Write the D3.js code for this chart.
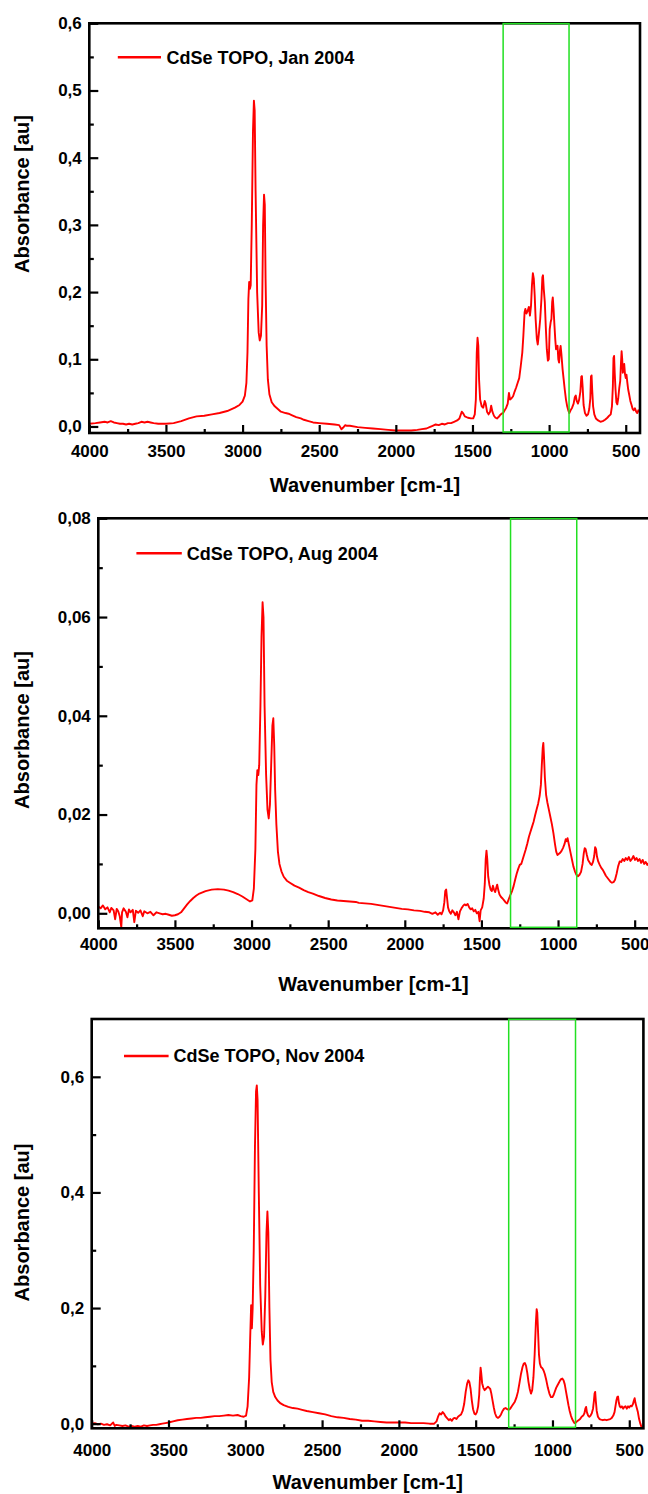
<!DOCTYPE html>
<html><head><meta charset="utf-8">
<script src="https://cdn.jsdelivr.net/npm/d3@7"></script>
<style>body{margin:0;background:#fff}svg{display:block}text{font-family:"Liberation Sans",Arial,sans-serif;font-weight:bold;fill:#000}</style>
</head><body>
<script>
// ---------- DATA ----------
const seriesLabels = ["CdSe TOPO, Jan 2004", "CdSe TOPO, Aug 2004", "CdSe TOPO, Nov 2004"];
const xTitle = "Wavenumber [cm-1]";
const yTitle = "Absorbance [au]";
const xMajorTicks = [4000, 3500, 3000, 2500, 2000, 1500, 1000, 500];
const xMinorTicks = [3750, 3250, 2750, 2250, 1750, 1250, 750];
const janYMajor = [0, 0.1, 0.2, 0.3, 0.4, 0.5, 0.6];
const janYMinor = [0.05, 0.15, 0.25, 0.35, 0.45, 0.55];
const augYMajor = [0, 0.02, 0.04, 0.06, 0.08];
const augYMinor = [0.01, 0.03, 0.05, 0.07];
const novYMajor = [0, 0.2, 0.4, 0.6];
const novYMinor = [0.1, 0.3, 0.5];
const janBox = [1300, 870];
const augBox = [1310, 878];
const novBox = [1285, 850];

const janSpectrum = [
[4000,0.004],[3960,0.005],[3930,0.006],[3900,0.007],[3880,0.006],[3860,0.008],[3840,0.006],[3820,0.005],[3800,0.004],[3780,0.004],
[3760,0.003],[3740,0.004],[3720,0.003],[3700,0.004],[3680,0.005],[3660,0.007],[3640,0.006],[3620,0.007],[3600,0.006],[3580,0.005],
[3550,0.004],[3500,0.004],[3450,0.005],[3400,0.008],[3350,0.012],[3300,0.015],[3250,0.016],[3200,0.018],[3150,0.020],[3100,0.023],
[3050,0.028],[3020,0.032],[3000,0.037],[2985,0.046],[2975,0.065],[2968,0.110],[2962,0.190],[2957,0.215],[2952,0.205],[2947,0.210],
[2940,0.300],[2932,0.440],[2926,0.485],[2921,0.470],[2915,0.350],[2905,0.200],[2895,0.140],[2888,0.128],[2880,0.135],[2872,0.180],
[2866,0.300],[2860,0.345],[2855,0.330],[2850,0.220],[2843,0.120],[2835,0.070],[2825,0.048],[2810,0.036],[2790,0.030],[2770,0.026],
[2750,0.022],[2720,0.020],[2700,0.019],[2680,0.017],[2650,0.014],[2620,0.012],[2600,0.010],[2570,0.008],[2540,0.006],[2500,0.005],
[2450,0.004],[2400,0.003],[2370,0.002],[2355,-0.004],[2345,-0.002],[2330,0.002],[2320,0.001],[2300,0.001],[2250,-0.001],[2200,-0.002],
[2150,-0.003],[2100,-0.004],[2050,-0.005],[2000,-0.006],[1950,-0.006],[1900,-0.006],[1860,-0.005],[1830,-0.004],[1800,-0.003],[1780,-0.001],
[1760,0.001],[1740,0.003],[1720,0.002],[1700,0.004],[1680,0.003],[1660,0.005],[1640,0.005],[1620,0.007],[1600,0.009],[1585,0.012],
[1570,0.022],[1562,0.020],[1550,0.015],[1530,0.013],[1510,0.012],[1495,0.012],[1485,0.018],[1478,0.040],[1472,0.110],[1467,0.132],
[1462,0.120],[1457,0.070],[1450,0.040],[1440,0.030],[1430,0.028],[1420,0.038],[1414,0.034],[1405,0.022],[1395,0.018],[1385,0.022],
[1378,0.031],[1370,0.022],[1360,0.016],[1350,0.013],[1340,0.012],[1330,0.014],[1320,0.017],[1310,0.019],[1300,0.020],[1290,0.024],
[1280,0.028],[1270,0.034],[1262,0.050],[1255,0.040],[1245,0.042],[1235,0.045],[1225,0.052],[1215,0.058],[1205,0.065],[1195,0.072],
[1185,0.090],[1175,0.110],[1168,0.135],[1160,0.170],[1155,0.175],[1148,0.168],[1140,0.172],[1132,0.178],[1125,0.165],[1118,0.180],
[1112,0.210],[1106,0.228],[1100,0.220],[1094,0.195],[1088,0.160],[1080,0.130],[1074,0.122],[1066,0.140],[1058,0.160],[1050,0.190],
[1044,0.222],[1040,0.225],[1035,0.205],[1028,0.185],[1022,0.150],[1015,0.115],[1008,0.098],[1002,0.100],[996,0.145],[990,0.155],
[985,0.160],[980,0.185],[976,0.192],[971,0.175],[965,0.150],[960,0.130],[955,0.115],[950,0.118],[945,0.120],[940,0.100],
[935,0.095],[930,0.112],[925,0.120],[920,0.108],[912,0.085],[905,0.070],[898,0.055],[890,0.040],[882,0.030],[875,0.024],
[868,0.020],[860,0.024],[850,0.028],[840,0.034],[832,0.044],[826,0.046],[820,0.038],[812,0.034],[804,0.040],[796,0.052],
[790,0.074],[786,0.075],[781,0.058],[775,0.032],[766,0.020],[756,0.016],[746,0.018],[738,0.026],[731,0.042],[727,0.074],
[723,0.076],[719,0.055],[713,0.030],[705,0.018],[695,0.012],[680,0.009],[665,0.007],[650,0.008],[635,0.010],[620,0.013],
[608,0.016],[598,0.018],[590,0.030],[584,0.060],[580,0.102],[576,0.105],[572,0.080],[567,0.056],[561,0.036],[555,0.033],
[549,0.042],[542,0.058],[536,0.068],[531,0.095],[527,0.112],[523,0.100],[519,0.080],[514,0.090],[510,0.093],[505,0.078],
[500,0.072],[495,0.077],[490,0.066],[484,0.055],[478,0.048],[470,0.038],[462,0.032],[455,0.026],[448,0.024],[440,0.027],
[432,0.022],[425,0.020],[418,0.024],[410,0.022]
];

const augSpectrum = [
[4000,0.0014],[3985,0.0010],[3970,0.0016],[3955,0.0008],[3940,0.0012],[3925,0.0002],[3915,0.0011],[3900,0.0006],[3890,-0.0012],[3880,0.0009],
[3870,0.0004],[3860,-0.0006],[3850,-0.0028],[3845,0.0002],[3835,0.0010],[3820,0.0003],[3810,-0.0008],[3800,0.0008],[3790,0.0002],[3775,0.0007],
[3765,-0.0018],[3755,0.0005],[3740,0.0001],[3725,0.0006],[3710,-0.0006],[3700,0.0004],[3680,0.0000],[3660,0.0003],[3640,-0.0004],[3620,0.0002],
[3600,0.0000],[3580,-0.0002],[3560,-0.0001],[3540,-0.0003],[3520,-0.0005],[3500,-0.0004],[3480,-0.0002],[3460,0.0002],[3440,0.0010],[3420,0.0018],
[3400,0.0025],[3380,0.0031],[3360,0.0036],[3340,0.0040],[3300,0.0045],[3260,0.0048],[3220,0.0049],[3180,0.0048],[3150,0.0046],[3120,0.0043],
[3090,0.0039],[3060,0.0034],[3030,0.0028],[3010,0.0024],[2995,0.0026],[2985,0.0050],[2975,0.0130],[2968,0.0260],[2962,0.0290],[2956,0.0280],
[2950,0.0300],[2942,0.0420],[2935,0.0560],[2928,0.0630],[2922,0.0600],[2915,0.0420],[2905,0.0280],[2896,0.0210],[2888,0.0192],[2880,0.0220],
[2872,0.0300],[2864,0.0380],[2858,0.0395],[2852,0.0340],[2846,0.0250],[2838,0.0180],[2828,0.0125],[2818,0.0100],[2805,0.0085],[2790,0.0074],
[2770,0.0066],[2750,0.0062],[2720,0.0056],[2690,0.0052],[2660,0.0047],[2630,0.0043],[2600,0.0040],[2560,0.0035],[2520,0.0031],[2480,0.0028],
[2440,0.0026],[2400,0.0025],[2360,0.0024],[2320,0.0023],[2300,0.0021],[2260,0.0020],[2220,0.0019],[2180,0.0017],[2140,0.0015],[2100,0.0013],
[2060,0.0011],[2020,0.0009],[1980,0.0008],[1940,0.0006],[1900,0.0005],[1870,0.0003],[1840,0.0002],[1820,-0.0001],[1800,0.0002],[1785,-0.0003],
[1770,0.0001],[1760,-0.0002],[1750,0.0006],[1742,0.0022],[1736,0.0045],[1730,0.0048],[1724,0.0030],[1718,0.0012],[1710,0.0004],[1700,-0.0001],
[1690,0.0006],[1680,0.0002],[1670,-0.0004],[1660,0.0003],[1650,-0.0012],[1640,0.0004],[1630,0.0010],[1620,0.0015],[1610,0.0018],[1600,0.0016],
[1590,0.0019],[1580,0.0012],[1570,0.0008],[1560,0.0010],[1550,0.0004],[1540,0.0007],[1530,0.0000],[1520,0.0003],[1512,-0.0016],[1505,0.0006],
[1495,0.0012],[1485,0.0030],[1478,0.0060],[1472,0.0110],[1467,0.0127],[1462,0.0110],[1456,0.0075],[1448,0.0058],[1440,0.0048],[1432,0.0045],
[1425,0.0056],[1418,0.0048],[1410,0.0043],[1403,0.0052],[1397,0.0058],[1390,0.0047],[1382,0.0038],[1372,0.0033],[1362,0.0030],[1352,0.0026],
[1342,0.0022],[1332,0.0020],[1320,0.0030],[1310,0.0038],[1300,0.0045],[1290,0.0055],[1280,0.0068],[1270,0.0080],[1260,0.0090],[1250,0.0098],
[1240,0.0100],[1232,0.0108],[1222,0.0118],[1212,0.0128],[1200,0.0142],[1190,0.0155],[1180,0.0165],[1170,0.0175],[1160,0.0185],[1150,0.0198],
[1140,0.0210],[1130,0.0222],[1120,0.0238],[1112,0.0260],[1106,0.0300],[1100,0.0335],[1096,0.0345],[1092,0.0320],[1086,0.0275],[1078,0.0240],
[1070,0.0225],[1060,0.0210],[1050,0.0195],[1040,0.0180],[1030,0.0162],[1020,0.0140],[1012,0.0125],[1004,0.0118],[996,0.0120],[988,0.0122],
[978,0.0126],[968,0.0132],[958,0.0140],[950,0.0150],[944,0.0146],[938,0.0152],[930,0.0140],[920,0.0125],[910,0.0110],[900,0.0095],
[890,0.0085],[880,0.0078],[870,0.0075],[860,0.0078],[850,0.0084],[840,0.0100],[832,0.0122],[826,0.0132],[820,0.0130],[812,0.0118],
[804,0.0108],[796,0.0104],[788,0.0100],[780,0.0098],[772,0.0104],[764,0.0116],[758,0.0134],[752,0.0130],[746,0.0115],[738,0.0105],
[728,0.0098],[718,0.0092],[708,0.0088],[698,0.0082],[688,0.0076],[678,0.0072],[668,0.0068],[658,0.0064],[648,0.0062],[638,0.0063],
[628,0.0068],[618,0.0080],[608,0.0095],[598,0.0105],[588,0.0104],[578,0.0110],[568,0.0106],[558,0.0112],[548,0.0108],[538,0.0114],
[528,0.0106],[518,0.0110],[508,0.0116],[498,0.0108],[488,0.0112],[478,0.0106],[468,0.0110],[458,0.0102],[448,0.0108],[438,0.0100],
[428,0.0104],[418,0.0098],[408,0.0102],[400,0.0100]
];

const novSpectrum = [
[4000,0.000],[3980,0.001],[3960,-0.001],[3940,0.000],[3920,-0.002],[3900,-0.001],[3880,-0.003],[3860,0.002],[3850,-0.004],[3840,-0.002],
[3820,-0.003],[3800,-0.004],[3780,-0.003],[3760,-0.005],[3740,-0.004],[3720,-0.005],[3700,-0.004],[3680,-0.005],[3660,-0.003],[3640,-0.004],
[3620,-0.003],[3600,-0.002],[3580,-0.002],[3560,-0.001],[3540,0.000],[3520,0.001],[3500,0.002],[3470,0.004],[3440,0.006],[3410,0.007],
[3380,0.008],[3350,0.009],[3320,0.010],[3290,0.010],[3260,0.011],[3230,0.012],[3200,0.013],[3170,0.013],[3140,0.014],[3110,0.015],
[3080,0.014],[3050,0.015],[3030,0.013],[3010,0.012],[2995,0.014],[2985,0.030],[2975,0.080],[2968,0.150],[2962,0.205],[2957,0.165],
[2952,0.200],[2945,0.300],[2937,0.480],[2930,0.575],[2925,0.585],[2920,0.560],[2912,0.400],[2903,0.240],[2893,0.160],[2886,0.137],
[2878,0.150],[2870,0.220],[2862,0.330],[2856,0.367],[2850,0.330],[2843,0.200],[2836,0.110],[2828,0.072],[2818,0.055],[2805,0.046],
[2790,0.040],[2770,0.035],[2750,0.032],[2720,0.029],[2690,0.027],[2660,0.026],[2630,0.024],[2600,0.022],[2560,0.020],[2520,0.018],
[2480,0.016],[2440,0.013],[2400,0.011],[2360,0.010],[2320,0.008],[2280,0.007],[2240,0.005],[2200,0.005],[2160,0.004],[2120,0.003],
[2080,0.002],[2040,0.002],[2000,0.002],[1960,0.002],[1920,0.001],[1880,0.001],[1840,0.001],[1800,0.000],[1770,0.000],[1755,0.004],
[1745,0.012],[1735,0.018],[1725,0.016],[1715,0.020],[1705,0.017],[1695,0.012],[1685,0.009],[1675,0.006],[1665,0.008],[1655,0.005],
[1645,0.009],[1635,0.010],[1625,0.008],[1615,0.012],[1605,0.014],[1595,0.016],[1585,0.022],[1575,0.034],[1565,0.055],[1555,0.070],
[1548,0.075],[1541,0.072],[1533,0.060],[1525,0.040],[1517,0.025],[1508,0.017],[1500,0.016],[1492,0.020],[1484,0.030],[1477,0.050],
[1472,0.080],[1468,0.097],[1464,0.088],[1458,0.070],[1450,0.062],[1442,0.058],[1435,0.060],[1428,0.062],[1420,0.064],[1412,0.062],
[1405,0.060],[1398,0.052],[1390,0.040],[1382,0.028],[1374,0.018],[1365,0.012],[1355,0.010],[1345,0.012],[1335,0.016],[1325,0.022],
[1315,0.026],[1305,0.027],[1295,0.025],[1285,0.024],[1275,0.026],[1265,0.030],[1255,0.034],[1245,0.038],[1235,0.045],[1225,0.055],
[1215,0.070],[1205,0.086],[1195,0.098],[1187,0.104],[1180,0.105],[1172,0.100],[1164,0.088],[1156,0.072],[1148,0.060],[1140,0.052],
[1132,0.058],[1124,0.080],[1116,0.120],[1108,0.175],[1103,0.198],[1099,0.192],[1094,0.160],[1088,0.120],[1082,0.104],[1075,0.098],
[1066,0.096],[1058,0.092],[1050,0.086],[1040,0.075],[1030,0.062],[1020,0.052],[1010,0.046],[1000,0.046],[992,0.050],[984,0.056],
[976,0.062],[968,0.066],[960,0.070],[952,0.074],[944,0.077],[936,0.078],[928,0.075],[920,0.068],[912,0.056],[904,0.044],
[896,0.032],[888,0.022],[880,0.014],[872,0.008],[864,0.004],[856,0.001],[848,0.002],[840,0.004],[830,0.006],[820,0.008],
[810,0.012],[800,0.014],[792,0.018],[786,0.026],[781,0.029],[776,0.020],[768,0.014],[760,0.012],[752,0.014],[744,0.018],
[736,0.026],[730,0.040],[726,0.052],[722,0.055],[718,0.040],[712,0.022],[704,0.012],[694,0.008],[684,0.007],[672,0.006],
[660,0.007],[648,0.006],[636,0.007],[624,0.008],[614,0.010],[604,0.014],[596,0.020],[590,0.030],[584,0.040],[578,0.046],
[573,0.047],[568,0.036],[562,0.030],[556,0.028],[548,0.030],[540,0.026],[532,0.029],[524,0.030],[516,0.026],[508,0.030],
[500,0.028],[492,0.031],[484,0.030],[476,0.034],[470,0.040],[465,0.044],[460,0.036],[452,0.028],[444,0.020],[436,0.008],
[428,0.000],[420,-0.006],[412,-0.008]
];

// ---------- LAYOUT ----------
const panels = [
  {data: janSpectrum, label: seriesLabels[0], xDom: [4000, 407], yDom: [-0.0097, 0.6], yMajor: janYMajor, yMinor: janYMinor, fmt: ".1f", box: janBox,
   left: 89.3, right: 640, top: 23.3, bottom: 433, xPad: 12,
   leg: {x1: 117.8, x2: 161, y: 57.3, tx: 166.5, ty: 64}, yT: {x: 29, y: 194}, xT: {x: 365, y: 492}},
  {data: augSpectrum, label: seriesLabels[1], xDom: [4000, 400], yDom: [-0.00304, 0.08], yMajor: augYMajor, yMinor: augYMinor, fmt: ".2f", box: augBox,
   left: 98.3, right: 650, top: 518.3, bottom: 928.3, xPad: 10,
   leg: {x1: 136.4, x2: 181.8, y: 553.3, tx: 186.8, ty: 560}, yT: {x: 29, y: 730}, xT: {x: 373.5, y: 990.5}},
  {data: novSpectrum, label: seriesLabels[2], xDom: [4000, 408], yDom: [-0.008, 0.70], yMajor: novYMajor, yMinor: novYMinor, fmt: ".1f", box: novBox,
   left: 91.7, right: 643.4, top: 1019, bottom: 1428.3, xPad: 16,
   leg: {x1: 124, x2: 168.6, y: 1056, tx: 173.6, ty: 1062}, yT: {x: 29, y: 1222.5}, xT: {x: 367.8, y: 1489}}
];

const W = 648, H = 1494;
const locale = d3.formatLocale({decimal: ",", thousands: "", grouping: [3], currency: ["", ""]});
const svg = d3.select("body").append("svg").attr("width", W).attr("height", H).attr("viewBox", `0 0 ${W} ${H}`);
svg.append("rect").attr("width", W).attr("height", H).attr("fill", "#fff");

panels.forEach((p, i) => {
  const x = d3.scaleLinear().domain(p.xDom).range([p.left, p.right]);
  const y = d3.scaleLinear().domain(p.yDom).range([p.bottom, p.top]);
  const g = svg.append("g");

  const clipId = "clip" + i;
  svg.append("clipPath").attr("id", clipId).append("rect")
    .attr("x", p.left).attr("y", p.top).attr("width", p.right - p.left).attr("height", p.bottom - p.top);

  // spectrum
  g.append("path").datum(p.data)
    .attr("clip-path", `url(#${clipId})`)
    .attr("fill", "none").attr("stroke", "#ff0000").attr("stroke-width", 1.9).attr("stroke-linejoin", "round")
    .attr("d", d3.line().x(d => x(d[0])).y(d => y(d[1])));

  // x axis ticks
  const xa = g.append("g").attr("transform", `translate(0,${p.bottom})`)
    .call(d3.axisBottom(x).tickValues(xMajorTicks).tickSize(-8).tickPadding(p.xPad).tickFormat(d3.format("d")));
  const xm = g.append("g").attr("transform", `translate(0,${p.bottom})`)
    .call(d3.axisBottom(x).tickValues(xMinorTicks).tickSize(-4).tickFormat(""));
  // y axis ticks
  const ya = g.append("g").attr("transform", `translate(${p.left},0)`)
    .call(d3.axisLeft(y).tickValues(p.yMajor).tickSize(-9).tickPadding(7.5).tickFormat(locale.format(p.fmt)));
  const ym = g.append("g").attr("transform", `translate(${p.left},0)`)
    .call(d3.axisLeft(y).tickValues(p.yMinor).tickSize(-4.5).tickFormat(""));
  [xa, xm, ya, ym].forEach(a => {
    a.select(".domain").remove();
    a.selectAll(".tick line").attr("stroke", "#000").attr("stroke-width", 2.2);
    a.selectAll(".tick text").attr("font-size", 17).attr("font-family", "'Liberation Sans', Arial, sans-serif").attr("font-weight", "bold").attr("fill", "#000");
  });

  // frame
  g.append("rect").attr("x", p.left).attr("y", p.top)
    .attr("width", p.right - p.left).attr("height", p.bottom - p.top)
    .attr("fill", "none").attr("stroke", "#000").attr("stroke-width", 2.6);

  // green box (drawn over the frame, as in the original)
  g.append("rect")
    .attr("x", x(p.box[0])).attr("y", p.top + 0.3)
    .attr("width", x(p.box[1]) - x(p.box[0])).attr("height", p.bottom - p.top - 1.3)
    .attr("fill", "none").attr("stroke", "#22e022").attr("stroke-width", 1.5);

  // legend
  g.append("line").attr("x1", p.leg.x1).attr("x2", p.leg.x2).attr("y1", p.leg.y).attr("y2", p.leg.y)
    .attr("stroke", "#ff0000").attr("stroke-width", 2.6);
  g.append("text").attr("x", p.leg.tx).attr("y", p.leg.ty).attr("font-size", 18).text(p.label);

  // axis titles
  g.append("text").attr("transform", `translate(${p.yT.x},${p.yT.y}) rotate(-90)`)
    .attr("text-anchor", "middle").attr("font-size", 20).text(yTitle);
  g.append("text").attr("x", p.xT.x).attr("y", p.xT.y)
    .attr("text-anchor", "middle").attr("font-size", 20).text(xTitle);
});
</script>
</body></html>
